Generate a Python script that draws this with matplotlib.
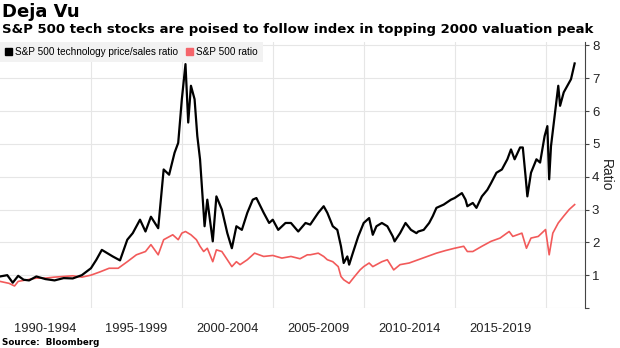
import matplotlib
matplotlib.use("Agg")
import matplotlib.pyplot as plt
from matplotlib.patches import Patch
from matplotlib.ticker import FixedLocator, NullFormatter

# values (decimal year, ratio)
tech_years = [1990.0, 1990.4, 1990.7, 1991.0, 1991.3, 1991.6, 1992.0, 1992.5, 1993.0, 1993.5,
              1994.0, 1994.5, 1995.0, 1995.3, 1995.6, 1995.9, 1996.2, 1996.6, 1997.0, 1997.3,
              1997.7, 1998.0, 1998.3, 1998.7, 1999.0, 1999.3, 1999.6, 1999.8, 2000.0, 2000.2,
              2000.35, 2000.5, 2000.7, 2000.85, 2001.0, 2001.25, 2001.4, 2001.7, 2001.9, 2002.2,
              2002.5, 2002.75, 2003.0, 2003.3, 2003.6, 2003.9, 2004.1, 2004.5, 2004.8, 2005.0,
              2005.3, 2005.7, 2006.0, 2006.4, 2006.8, 2007.06, 2007.5, 2007.8, 2008.0, 2008.3,
              2008.55, 2008.75, 2008.9, 2009.1, 2009.2, 2009.4, 2009.7, 2010.0, 2010.3, 2010.5,
              2010.7, 2011.0, 2011.3, 2011.6, 2011.7, 2012.0, 2012.3, 2012.6, 2012.9, 2013.0,
              2013.3, 2013.6, 2013.8, 2014.0, 2014.4, 2014.8, 2015.0, 2015.4, 2015.6, 2015.7,
              2016.0, 2016.2, 2016.5, 2016.8, 2017.0, 2017.3, 2017.6, 2017.9, 2018.1, 2018.3,
              2018.6, 2018.75, 2018.9, 2019.0, 2019.2, 2019.5, 2019.7, 2019.95, 2020.1, 2020.2,
              2020.3, 2020.5, 2020.7, 2020.8, 2021.0, 2021.2, 2021.4, 2021.6]
tech_ratio = [0.96, 1.0, 0.77, 0.98, 0.86, 0.84, 0.96, 0.88, 0.84, 0.91,
              0.9, 1.0, 1.21, 1.47, 1.77, 1.67, 1.57, 1.45, 2.08, 2.28,
              2.69, 2.33, 2.78, 2.43, 4.22, 4.06, 4.73, 5.03, 6.36, 7.43,
              5.65, 6.77, 6.36, 5.24, 4.53, 2.49, 3.3, 2.03, 3.4, 3.0,
              2.28, 1.82, 2.49, 2.38, 2.9, 3.3, 3.35, 2.9, 2.59, 2.69,
              2.38, 2.59, 2.59, 2.33, 2.59, 2.54, 2.9, 3.1, 2.9, 2.49,
              2.38, 1.88, 1.37, 1.57, 1.32, 1.67, 2.18, 2.59, 2.74, 2.23,
              2.49, 2.59, 2.49, 2.18, 2.03, 2.28, 2.59, 2.38, 2.28, 2.33,
              2.38, 2.59, 2.8, 3.05, 3.15, 3.3, 3.35, 3.5, 3.3, 3.1,
              3.2, 3.05, 3.4, 3.6, 3.8, 4.12, 4.22, 4.53, 4.83, 4.53,
              4.89, 4.89, 4.02, 3.4, 4.12, 4.53, 4.43, 5.24, 5.54, 3.92,
              4.93, 5.85, 6.77, 6.16, 6.57, 6.77, 6.97, 7.45]

sp_years = [1990.0, 1990.5, 1990.8, 1991.0, 1991.5, 1992.0, 1992.5, 1993.0, 1993.5, 1994.0,
            1994.5, 1995.0, 1995.5, 1996.0, 1996.5, 1997.0, 1997.5, 1998.0, 1998.3, 1998.7,
            1999.0, 1999.5, 1999.8, 2000.0, 2000.2, 2000.5, 2000.8, 2001.0, 2001.2, 2001.4,
            2001.7, 2001.9, 2002.2, 2002.5, 2002.75, 2003.0, 2003.2, 2003.6, 2004.0, 2004.5,
            2005.0, 2005.5, 2006.0, 2006.5, 2006.9, 2007.06, 2007.5, 2007.8, 2008.0, 2008.3,
            2008.6, 2008.75, 2008.9, 2009.2, 2009.5, 2009.8, 2010.0, 2010.3, 2010.5, 2011.0,
            2011.3, 2011.65, 2012.0, 2012.5, 2013.0, 2013.5, 2014.0, 2014.5, 2015.0, 2015.5,
            2015.7, 2016.0, 2016.5, 2017.0, 2017.5, 2018.0, 2018.2, 2018.7, 2018.95, 2019.2,
            2019.6, 2020.0, 2020.2, 2020.4, 2020.7, 2021.0, 2021.3, 2021.6]
sp_ratio = [0.81, 0.75, 0.67, 0.81, 0.86, 0.91, 0.91, 0.94, 0.96, 0.98,
            0.94, 1.0, 1.1, 1.21, 1.21, 1.41, 1.62, 1.72, 1.93, 1.62,
            2.08, 2.23, 2.08, 2.28, 2.33, 2.23, 2.08, 1.88, 1.72, 1.82,
            1.41, 1.77, 1.72, 1.47, 1.26, 1.41, 1.32, 1.47, 1.67, 1.57,
            1.6, 1.52, 1.57, 1.5, 1.62, 1.62, 1.67, 1.57, 1.47, 1.41,
            1.26, 0.96, 0.86, 0.75, 0.96, 1.16, 1.26, 1.37, 1.26, 1.41,
            1.47, 1.16, 1.32, 1.37, 1.47, 1.57, 1.67, 1.75, 1.82, 1.88,
            1.72, 1.72, 1.88, 2.03, 2.13, 2.33, 2.18, 2.28, 1.82, 2.13,
            2.18, 2.39, 1.62, 2.28, 2.59, 2.8, 3.0, 3.15]

period_labels = ["1990-1994", "1995-1999", "2000-2004", "2005-2009", "2010-2014", "2015-2019"]
period_starts = [1990, 1995, 2000, 2005, 2010, 2015]

tick_font = ["Liberation Sans", "DejaVu Sans"]

fig = plt.figure(figsize=(6.2, 3.48), dpi=100)
ax = fig.add_axes([0.0, 0.115, 585 / 620, 0.764])

ax.plot(sp_years, sp_ratio, color="#f25a5a", linewidth=1.2, zorder=2)
ax.plot(tech_years, tech_ratio, color="black", linewidth=1.6, zorder=3)

ax.set_xlim(1990, 2022.17)
ax.set_ylim(0, 8.1)

# gridlines at the period boundaries, labels in the middle of each period
ax.xaxis.set_major_locator(FixedLocator([1995, 2000, 2005, 2010, 2015, 2020]))
ax.xaxis.set_major_formatter(NullFormatter())
ax.xaxis.set_minor_locator(FixedLocator([s + 2.5 for s in period_starts]))
ax.set_xticklabels(period_labels, minor=True, fontsize=9.3, family=tick_font, color="#222222")
ax.tick_params(axis="x", which="both", length=0, pad=11)

ax.yaxis.tick_right()
ax.yaxis.set_label_position("right")
ax.set_yticks(range(0, 9))
ax.set_yticklabels([""] + [str(i) for i in range(1, 9)], fontsize=9.5, family=tick_font, color="#222222")
ax.tick_params(axis="y", length=3, width=0.8, pad=2, color="#444444")
ax.set_ylabel("Ratio", rotation=270, labelpad=10, fontsize=10, family=tick_font, color="#222222")

ax.grid(True, which="major", color="#e6e6e6", linewidth=0.8)
for side in ["left", "top", "bottom"]:
    ax.spines[side].set_visible(False)
ax.spines["right"].set_color("#444444")
ax.spines["right"].set_linewidth(0.8)

handles = [Patch(color="black", label="S&P 500 technology price/sales ratio"),
           Patch(color="#f5656b", label="S&P 500 ratio")]
leg = ax.legend(handles=handles, loc="upper left", ncol=2, frameon=True, fancybox=False,
                borderaxespad=0, handlelength=0.7, handleheight=0.7, handletextpad=0.3,
                columnspacing=0.8, borderpad=0.5, prop={"family": tick_font, "size": 7.2})
leg.get_frame().set_facecolor("#f2f2f2")
leg.get_frame().set_edgecolor("none")
leg.get_frame().set_alpha(1)

fig.text(0.004, 0.965, "Deja Vu", fontsize=13, fontweight="bold", va="center", ha="left")
fig.text(0.004, 0.915, "S&P 500 tech stocks are poised to follow index in topping 2000 valuation peak",
         fontsize=9.5, fontweight="bold", va="center", ha="left")
fig.text(0.004, 0.017, "Source:  Bloomberg", fontsize=6.3, fontweight="bold", va="center", ha="left")

fig.savefig("out.png", dpi=100)
